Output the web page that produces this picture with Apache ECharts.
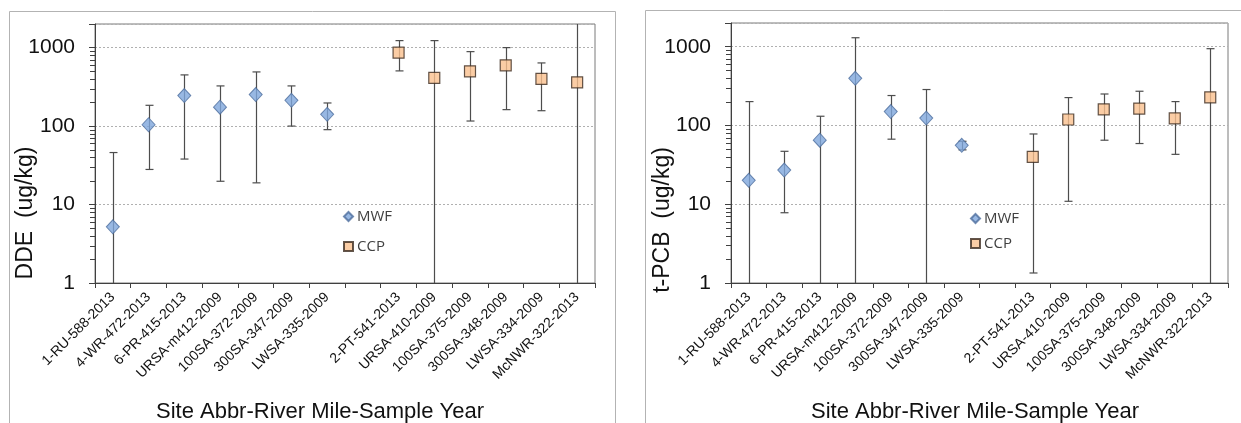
<!DOCTYPE html>
<html>
<head>
<meta charset="utf-8">
<script src="https://cdn.jsdelivr.net/npm/echarts@6/dist/echarts.min.js"></script>
<style>
html,body{margin:0;padding:0;background:#fff;}
#c{width:1241px;height:423px;}
</style>
</head>
<body>
<div id="c"></div>
<script>
// ---- data ----
const categories = ['1-RU-588-2013','4-WR-472-2013','6-PR-415-2013','URSA-m412-2009','100SA-372-2009','300SA-347-2009','LWSA-335-2009','','2-PT-541-2013','URSA-410-2009','100SA-375-2009','300SA-348-2009','LWSA-334-2009','McNWR-322-2013'];
const mwfSites = [0, 1, 2, 3, 4, 5, 6];
const ccpSites = [8, 9, 10, 11, 12, 13];

// DDE (ug/kg); null bound = bar runs past the axis end
const ddeMwfMean = [5.2, 104, 245, 174, 252, 213, 141];
const ddeMwfHigh = [46, 184, 449, 325, 490, 325, 197];
const ddeMwfLow  = [null, 28, 38, 19.8, 18.9, 100, 90];
const ddeCcpMean = [863, 411, 499, 595, 399, 361];
const ddeCcpHigh = [1228, 1228, 889, 1000, 638, null];
const ddeCcpLow  = [505, null, 116, 162, 157, null];

// t-PCB (ug/kg)
const pcbMwfMean = [20.1, 27.2, 65, 397, 150, 124, 56];
const pcbMwfHigh = [201, 47, 131, 1300, 240, 286, 63];
const pcbMwfLow  = [null, 7.8, null, null, 67, null, 49];
const pcbCcpMean = [40, 119, 160, 164, 123, 228];
const pcbCcpHigh = [78, 226, 251, 272, 201, 944];
const pcbCcpLow  = [1.34, 10.9, 65, 59, 43, null];

const yMin = 1, yMax = 2000;
const yTickLabels = [1, 10, 100, 1000];
const minorTickValues = [2,3,4,5,6,7,8,9,20,30,40,50,60,70,80,90,200,300,400,500,600,700,800,900,2000];

// ---- build ----
const FONT = '"Liberation Sans", Arial, sans-serif';
const chart = echarts.init(document.getElementById('c'), null, {renderer: 'canvas'});

function points(sites, vals) { return vals.map((v, i) => [sites[i], v]); }
function errorData(sites, lows, highs) {
  return sites.map((s, i) => ({
    value: [s, lows[i] == null ? yMin : lows[i], highs[i] == null ? yMax : highs[i]],
    capLow: lows[i] != null,
    capHigh: highs[i] != null
  }));
}

function errorSeries(gi, data) {
  return {
    type: 'custom', name: 'err' + gi, xAxisIndex: gi, yAxisIndex: gi, z: 2, silent: true,
    data: data,
    renderItem: function (params, api) {
      const item = data[params.dataIndex];
      const pLo = api.coord([api.value(0), api.value(1)]);
      const pHi = api.coord([api.value(0), api.value(2)]);
      const x = Math.round(pLo[0]) + 0.5;
      const st = {stroke: '#4d4d4d', lineWidth: 1.2};
      const ch = [{type: 'line', shape: {x1: x, y1: pLo[1], x2: x, y2: pHi[1]}, style: st}];
      if (item.capHigh) ch.push({type: 'line', shape: {x1: x - 4, y1: pHi[1], x2: x + 4, y2: pHi[1]}, style: st});
      if (item.capLow) ch.push({type: 'line', shape: {x1: x - 4, y1: pLo[1], x2: x + 4, y2: pLo[1]}, style: st});
      return {type: 'group', children: ch};
    }
  };
}

function minorTickSeries(gi) {
  return {
    type: 'custom', name: 'minor' + gi, xAxisIndex: gi, yAxisIndex: gi, silent: true, z: 4,
    data: minorTickValues.map(v => [0, v]),
    renderItem: function (params, api) {
      const y = Math.round(api.coord([0, api.value(1)])[1]) + 0.5;
      const x = params.coordSys.x;
      return {type: 'line', shape: {x1: x - 5, y1: y, x2: x, y2: y}, style: {stroke: '#404040', lineWidth: 1}};
    }
  };
}

const mwfStyle = {symbol: 'diamond', symbolSize: [13, 14], itemStyle: {color: '#7EA6DC', borderColor: '#4E6E9E', borderWidth: 1}, z: 5};
const ccpStyle = {symbol: 'rect', symbolSize: [11, 11], itemStyle: {color: '#FAC08F', borderColor: '#3B2A1F', borderWidth: 1.2}, z: 5};

function yAxis(gi) {
  return {
    type: 'log', logBase: 10, gridIndex: gi, min: yMin, max: yMax,
    axisLine: {show: true, lineStyle: {color: '#404040', width: 1}},
    axisTick: {show: true, length: 6, lineStyle: {color: '#404040'}},
    axisLabel: {
      margin: 20, fontSize: 21, color: '#111', fontFamily: FONT,
      formatter: function (v) {
        const hit = yTickLabels.find(t => Math.abs(t - v) / t < 1e-6);
        return hit ? String(hit) : '';
      }
    },
    splitLine: {show: true, lineStyle: {color: '#b0b0b0', type: [2, 2], width: 1}}
  };
}
function xAxis(gi) {
  return {
    type: 'category', gridIndex: gi, data: categories, boundaryGap: true,
    axisLine: {show: true, lineStyle: {color: '#404040', width: 1}},
    axisTick: {show: true, interval: 0, length: 5, alignWithLabel: false, lineStyle: {color: '#404040'}},
    axisLabel: {interval: 0, rotate: 45, fontSize: 14, color: '#111', margin: 12, fontFamily: FONT},
    splitLine: {show: false}
  };
}
function legend(left, top, gap) {
  return {
    orient: 'vertical', left: left, top: top, itemWidth: 9, itemHeight: 9, itemGap: gap,
    selectedMode: false,
    data: [{name: 'MWF', icon: 'diamond'}, {name: 'CCP', icon: 'rect'}],
    textStyle: {fontFamily: '"Open Sans", sans-serif', fontSize: 15, color: '#404040', padding: [0, 0, 0, -1]}
  };
}

const option = {
  animation: false,
  backgroundColor: '#fff',
  grid: [
    {left: 95, top: 24, width: 500, height: 259, show: true, borderColor: '#7a7a7a', borderWidth: 1},
    {left: 731, top: 23, width: 497, height: 260, show: true, borderColor: '#7a7a7a', borderWidth: 1}
  ],
  xAxis: [xAxis(0), xAxis(1)],
  yAxis: [yAxis(0), yAxis(1)],
  legend: [legend(338, 204, 15), legend(965, 206, 10)],
  graphic: [
    {type: 'rect', shape: {x: 9.5, y: 11.5, width: 606, height: 440}, style: {fill: 'none', stroke: '#b3b3b3', lineWidth: 1}, z: -10, silent: true},
    {type: 'rect', shape: {x: 645.5, y: 10.5, width: 640, height: 440}, style: {fill: 'none', stroke: '#b3b3b3', lineWidth: 1}, z: -10, silent: true},
    {type: 'text', x: 26, y: 213, rotation: Math.PI / 2, style: {text: 'DDE  (ug/kg)', font: '23px ' + FONT, fill: '#111', align: 'center', verticalAlign: 'middle'}},
    {type: 'text', x: 663, y: 220, rotation: Math.PI / 2, style: {text: 't-PCB  (ug/kg)', font: '23px ' + FONT, fill: '#111', align: 'center', verticalAlign: 'middle'}},
    {type: 'text', x: 320, y: 412, style: {text: 'Site Abbr-River Mile-Sample Year', font: '22px ' + FONT, fill: '#111', align: 'center', verticalAlign: 'middle'}},
    {type: 'text', x: 975, y: 412, style: {text: 'Site Abbr-River Mile-Sample Year', font: '22px ' + FONT, fill: '#111', align: 'center', verticalAlign: 'middle'}}
  ],
  series: [
    errorSeries(0, errorData(mwfSites, ddeMwfLow, ddeMwfHigh)),
    errorSeries(0, errorData(ccpSites, ddeCcpLow, ddeCcpHigh)),
    Object.assign({type: 'scatter', name: 'MWF', xAxisIndex: 0, yAxisIndex: 0, data: points(mwfSites, ddeMwfMean)}, mwfStyle),
    Object.assign({type: 'scatter', name: 'CCP', xAxisIndex: 0, yAxisIndex: 0, data: points(ccpSites, ddeCcpMean)}, ccpStyle),
    minorTickSeries(0),
    errorSeries(1, errorData(mwfSites, pcbMwfLow, pcbMwfHigh)),
    errorSeries(1, errorData(ccpSites, pcbCcpLow, pcbCcpHigh)),
    Object.assign({type: 'scatter', name: 'MWF', xAxisIndex: 1, yAxisIndex: 1, data: points(mwfSites, pcbMwfMean)}, mwfStyle),
    Object.assign({type: 'scatter', name: 'CCP', xAxisIndex: 1, yAxisIndex: 1, data: points(ccpSites, pcbCcpMean)}, ccpStyle),
    minorTickSeries(1)
  ]
};
chart.setOption(option);
</script>
</body>
</html>
